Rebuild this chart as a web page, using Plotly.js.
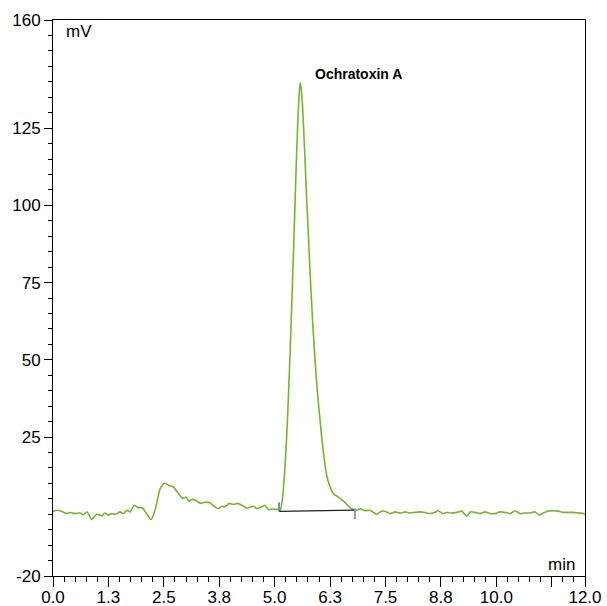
<!DOCTYPE html>
<html>
<head>
<meta charset="utf-8">
<script src="https://cdn.plot.ly/plotly-3.0.1.min.js"></script>
<style>html,body{margin:0;padding:0;background:#fff;}#chart{width:607px;height:606px;}</style>
</head>
<body>
<div id="chart"></div>
<script>
// Chromatogram signal (time in min, signal in mV)
const timeMin = [
  0.00,0.045,0.12,0.23,0.31,0.38,0.50,0.61,0.68,0.77,0.87,0.99,1.10,1.17,1.25,1.32,1.42,1.51,1.59,1.66,
  1.74,1.83,1.92,2.02,2.11,2.21,2.30,2.38,2.41,2.51,2.60,2.71,2.83,2.93,3.00,3.07,3.15,3.24,3.33,3.43,
  3.54,3.65,3.73,3.81,3.88,3.97,4.07,4.16,4.26,4.37,4.44,4.52,4.60,4.71,4.78,4.86,4.97,5.08,
  5.12,5.15,5.175,5.20,5.225,5.25,5.275,5.30,5.325,5.35,5.375,5.40,5.425,5.45,5.475,5.50,5.525,5.55,
  5.572,5.60,5.625,5.65,5.675,5.70,5.725,5.75,5.80,5.85,5.90,5.95,6.00,6.05,6.10,6.15,6.20,6.25,
  6.30,6.35,6.40,6.45,6.50,6.55,6.60,6.65,6.70,6.75,6.80,6.864,6.925,7.038,7.15,7.225,7.302,7.415,7.528,
  7.602,7.715,7.828,7.94,8.053,8.166,8.279,8.392,8.504,8.617,8.692,8.791,8.881,8.994,9.107,9.22,9.332,
  9.407,9.52,9.633,9.745,9.858,9.971,10.083,10.196,10.309,10.422,10.535,10.647,10.76,10.873,10.97,11.06,
  11.173,11.286,11.399,11.511,11.624,11.737,11.85,11.962,12.0
];
const signalMV = [
  0.8,1.1,1.3,0.7,0.2,0.55,0.2,0.4,-0.1,0.75,-1.7,0.0,-0.5,0.4,-0.3,0.2,0.0,0.75,0.2,1.3,
  0.75,2.9,2.2,2.0,0.2,-1.7,1.3,6.2,8.0,10.1,9.4,8.9,6.7,5.1,5.6,4.2,4.9,4.3,3.5,3.9,
  3.7,2.4,1.8,2.6,2.4,3.5,3.2,3.5,2.9,2.0,2.2,2.6,1.8,2.4,2.9,1.5,1.7,1.5,
  1.0,2.6,5.0,8.8,13.8,19.5,26.5,34.5,43.5,53,63.5,74,85,96.5,108,118.5,128,135.5,
  139.6,137.5,133,126,118,109.5,101,93.5,78,64,52,42,34,26.5,20,14.5,11,8.8,
  7.2,6.3,5.9,5.4,4.9,4.3,3.6,2.8,2.2,1.7,1.4,1.3,1.8,1.1,1.3,0.6,0.0,1.0,0.75,
  0.2,0.75,0.4,0.75,0.4,0.6,0.75,0.55,0.2,0.6,1.1,0.2,0.55,0.4,0.6,1.0,-0.65,
  0.75,0.6,0.2,0.75,0.2,0.2,0.75,0.6,0.2,1.1,0.2,0.4,0.4,0.75,-0.3,0.4,
  1.0,1.1,1.0,0.6,0.6,0.6,0.4,0.2,-0.1
];
// Integration baseline and its start/end markers
const baselineT = [5.10, 6.81];
const baselineV = [0.9, 1.3];
const startMarkT = [5.10, 5.10];
const startMarkV = [0.9, 3.9];
const endMarkT = [6.81, 6.81];
const endMarkV = [-1.6, 1.9];
// Peak label
const peakName = "Ochratoxin A";
const peakLabelT = 6.88;
const peakLabelV = 142.5;
// Axis ticks
const xTickVals = [0,1.25,2.5,3.75,5,6.25,7.5,8.75,10,11.25,12];
const xTickText = ["0.0","1.3","2.5","3.8","5.0","6.3","7.5","8.8","10.0","","12.0"];
const yTickVals = [-20,25,50,75,100,125,160];
const yTickText = ["-20","25","50","75","100","125","160"];

const traces = [
  {x: timeMin, y: signalMV, type:'scatter', mode:'lines', line:{color:'#7ab32e', width:1.6, shape:'spline', smoothing:0.5}, hoverinfo:'skip'},
  {x: baselineT, y: baselineV, type:'scatter', mode:'lines', line:{color:'#222222', width:1.3}, hoverinfo:'skip'},
  {x: startMarkT, y: startMarkV, type:'scatter', mode:'lines', line:{color:'#5a6fb0', width:1.5}, hoverinfo:'skip'},
  {x: endMarkT, y: endMarkV, type:'scatter', mode:'lines', line:{color:'#8a9ccc', width:2}, hoverinfo:'skip'}
];
const font = {family:'Liberation Sans, Arial, sans-serif', size:17, color:'#000'};
const layout = {
  width:607, height:606,
  margin:{l:53, r:22, t:20, b:30, pad:0},
  paper_bgcolor:'#fff', plot_bgcolor:'#fff',
  showlegend:false,
  font: font,
  xaxis:{
    range:[0,12], showgrid:false, zeroline:false,
    showline:true, mirror:true, linecolor:'#000', linewidth:1,
    ticks:'outside', ticklen:10, tickcolor:'#000', tickwidth:1,
    tickmode:'array', tickvals:xTickVals, ticktext:xTickText,
    tickfont:font, ticklabelstandoff:-4,
    minor:{tickmode:'linear', tick0:0, dtick:0.25, ticks:'outside', ticklen:5, tickcolor:'#000', showgrid:false}
  },
  yaxis:{
    range:[-20,160], showgrid:false, zeroline:false,
    showline:true, mirror:true, linecolor:'#000', linewidth:1,
    ticks:'outside', ticklen:8, tickcolor:'#000', tickwidth:1,
    tickmode:'array', tickvals:yTickVals, ticktext:yTickText,
    tickfont:font,
    minor:{tickmode:'linear', tick0:0, dtick:5, ticks:'outside', ticklen:4, tickcolor:'#000', showgrid:false}
  },
  annotations:[
    {xref:'paper', yref:'paper', x:0.02, y:1.0, xanchor:'left', yanchor:'top', text:'mV', showarrow:false, font:font},
    {xref:'paper', yref:'paper', x:0.985, y:0.0, xanchor:'right', yanchor:'bottom', text:'min', showarrow:false, font:font},
    {x:peakLabelT, y:peakLabelV, xref:'x', yref:'y', text:'<b>'+peakName+'</b>', showarrow:false, font:{family:'Liberation Sans, Arial, sans-serif', size:14, color:'#000'}}
  ]
};
Plotly.newPlot('chart', traces, layout, {displayModeBar:false, staticPlot:true});
</script>
</body>
</html>
